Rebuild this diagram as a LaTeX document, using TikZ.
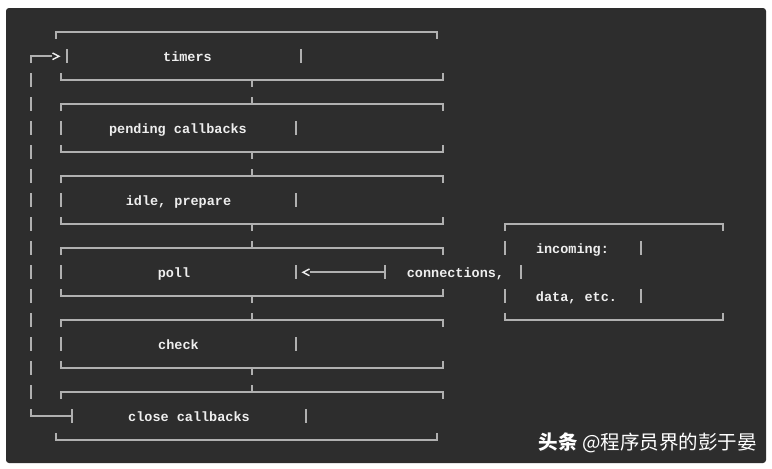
\documentclass[tikz,border=0pt]{standalone}
\usepackage{fontspec}
\newfontfamily\monof{Liberation Mono}
\newfontfamily\cjkf{Noto Sans CJK SC}
\definecolor{bgdark}{HTML}{2D2D2D}
\definecolor{lineg}{HTML}{B0B0B0}
\definecolor{txtw}{HTML}{EEEEEE}
\begin{document}
\begin{tikzpicture}[x=1pt,y=-1pt,
  ln/.style={draw=lineg, line width=1.5pt},
  chev/.style={draw=txtw, line width=1.4pt},
  lbl/.style={font=\monof\bfseries\fontsize{13.5}{16}\selectfont, text=txtw, inner sep=0pt, anchor=base},
  wm/.style={font=\cjkf\fontsize{19.5}{22}\selectfont, inner sep=0pt, anchor=east}]
\useasboundingbox (0,0) rectangle (772,469);
\fill[white] (0,0) rectangle (772,469);
\fill[bgdark, rounded corners=3pt] (6,8) rectangle (766,463);

% stage labels
\node[lbl] (timers) at (187.5,61) {timers};
\node[lbl] (pending) at (178,133) {pending callbacks};
\node[lbl] (idle) at (178.5,205) {idle, prepare};
\node[lbl] (poll) at (174,277) {poll};
\node[lbl] (check) at (178.5,349) {check};
\node[lbl] (close) at (189,421) {close callbacks};
\node[lbl] (incoming) at (572.5,253) {incoming:};
\node[lbl] (conn) at (455.5,277) {connections,};
\node[lbl] (data) at (576.5,301) {data, etc.};

% timers box
\draw[ln] (56,39) -- (56,32) -- (437,32) -- (437,39);
\draw[ln] (67,49) -- (67,63);
\draw[ln] (301,49) -- (301,63);
\draw[ln] (61,73) -- (61,80) -- (443,80) -- (443,73);
\draw[ln] (252,80) -- (252,87);

% box tops
\foreach \t in {104,176,248,320,392}{
  \draw[ln] (61,{\t+7}) -- (61,\t) -- (443,\t) -- (443,{\t+7});
  \draw[ln] (252,{\t-7}) -- (252,\t);
}
% box bottoms
\foreach \b in {152,224,296,368}{
  \draw[ln] (61,{\b-7}) -- (61,\b) -- (443,\b) -- (443,{\b-7});
  \draw[ln] (252,\b) -- (252,{\b+7});
}
% side walls of middle stages
\foreach \r in {128,200,272,344}{
  \draw[ln] (61,{\r-7}) -- (61,{\r+7});
  \draw[ln] (296,{\r-7}) -- (296,{\r+7});
}
% close callbacks box
\draw[ln] (72,409) -- (72,423);
\draw[ln] (306,409) -- (306,423);
\draw[ln] (56,433) -- (56,440) -- (437,440) -- (437,433);

% loop back on the left
\foreach \r in {80,104,...,392}{
  \draw[ln] (31,{\r-7}) -- (31,{\r+7});
}
\coordinate (loopTop) at (31,56);
\coordinate (loopBot) at (31,416);
\draw[ln] (31,409) -- (loopBot) -- (72,416);
\draw[ln] (31,63) -- (loopTop) -- (52,56);
\draw[chev] (52.5,53) -- (59,56.3) -- (52.5,59.6);

% incoming box
\draw[ln] (505,231) -- (505,224) -- (723,224) -- (723,231);
\draw[ln] (505,313) -- (505,320) -- (723,320) -- (723,313);
\draw[ln] (505,241) -- (505,255);
\draw[ln] (641,241) -- (641,255);
\draw[ln] (505,289) -- (505,303);
\draw[ln] (641,289) -- (641,303);
\draw[ln] (521,265) -- (521,279);

% arrow into poll
\coordinate (arrS) at (385,272);
\draw[ln] (385,265) -- (385,279);
\draw[ln] (arrS) -- (310,272);
\draw[chev] (309.5,269) -- (303,272.3) -- (309.5,275.7);

% watermark
\node[wm, text=black!80] (wmS) at (758,443.5) {{\bfseries 头条} @程序员界的彭于晏};
\node[wm, text=white] (wm) at (757,442.5) {{\bfseries 头条} @程序员界的彭于晏};
\end{tikzpicture}
\end{document}
